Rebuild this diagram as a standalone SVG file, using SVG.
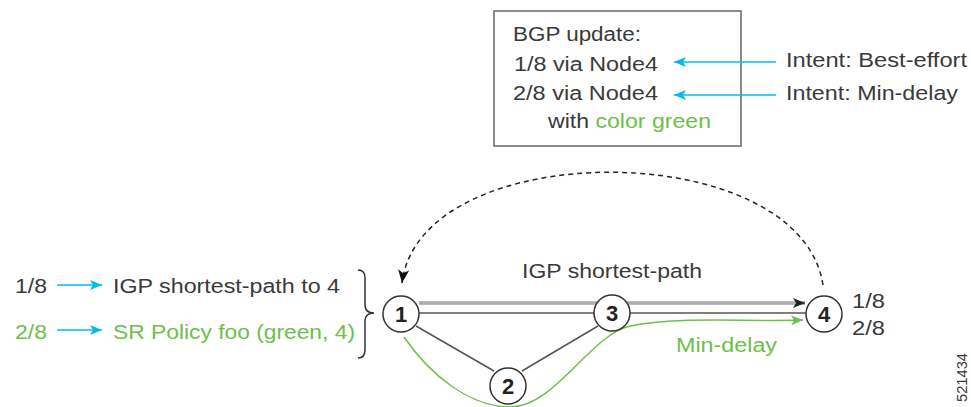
<svg xmlns="http://www.w3.org/2000/svg" width="971" height="407" viewBox="0 0 971 407">
<style>
text{font-family:"Liberation Sans",Arial,sans-serif;font-size:20px;fill:#3a3a3a}
.g{fill:#6cc04a}
.num{font-weight:bold;font-size:22px;text-anchor:middle;fill:#222}
.node{fill:#fff;stroke:#333;stroke-width:1.5}
.blue{stroke:#00bceb;stroke-width:1.5;fill:none}
.link{stroke:#555;stroke-width:1.5;fill:none}
</style>
<defs>
<marker id="ab" viewBox="0 0 12 10" refX="12" refY="5" markerWidth="12" markerHeight="10" markerUnits="userSpaceOnUse" orient="auto"><path d="M0,0 L12,5 L0,10 L3,5 z" fill="#00bceb"/></marker>
<marker id="ak" viewBox="0 0 12 10" refX="12" refY="5" markerWidth="12" markerHeight="10" markerUnits="userSpaceOnUse" orient="auto"><path d="M0,0 L12,5 L0,10 L3,5 z" fill="#222"/></marker>
<marker id="ag" viewBox="0 0 12 10" refX="12" refY="5" markerWidth="12" markerHeight="10" markerUnits="userSpaceOnUse" orient="auto"><path d="M0,0 L12,5 L0,10 L3,5 z" fill="#6cc04a"/></marker>
<marker id="ad" viewBox="0 0 12 10" refX="12" refY="5" markerWidth="14" markerHeight="11" markerUnits="userSpaceOnUse" orient="auto"><path d="M0,0 L12,5 L0,10 L3,5 z" fill="#111"/></marker>
</defs>

<g id="bgp-update">
<rect x="494" y="11" width="247" height="135" fill="#fff" stroke="#666" stroke-width="1.5"/>
<text x="513" y="41" textLength="128" lengthAdjust="spacingAndGlyphs">BGP update:</text>
<text x="514" y="71" textLength="144" lengthAdjust="spacingAndGlyphs">1/8 via Node4</text>
<text x="513" y="100" textLength="145" lengthAdjust="spacingAndGlyphs">2/8 via Node4</text>
<text x="548" y="128" textLength="163" lengthAdjust="spacingAndGlyphs">with <tspan class="g">color green</tspan></text>
</g>

<g id="intents">
<text x="786" y="67" textLength="181" lengthAdjust="spacingAndGlyphs">Intent: Best-effort</text>
<text x="786" y="100" textLength="172" lengthAdjust="spacingAndGlyphs">Intent: Min-delay</text>
</g>

<g id="left-labels">
<text x="15" y="293" textLength="32" lengthAdjust="spacingAndGlyphs">1/8</text>
<text x="113" y="293" textLength="227" lengthAdjust="spacingAndGlyphs">IGP shortest-path to 4</text>
<text class="g" x="15" y="339" textLength="32" lengthAdjust="spacingAndGlyphs">2/8</text>
<text class="g" x="113" y="339" textLength="242" lengthAdjust="spacingAndGlyphs">SR Policy foo (green, 4)</text>
<path d="M358,270 Q365,270 365,278 L365,305 Q365,313 374,313 Q365,313 365,321 L365,350 Q365,358 358,358" fill="none" stroke="#333" stroke-width="1.5"/>
</g>

<g id="connectors">
<line class="blue" x1="776" y1="62" x2="674" y2="62" marker-end="url(#ab)"/>
<line class="blue" x1="776" y1="95" x2="674" y2="95" marker-end="url(#ab)"/>
<line class="blue" x1="57" y1="285" x2="102" y2="285" marker-end="url(#ab)"/>
<line class="blue" x1="57" y1="330" x2="102" y2="330" marker-end="url(#ab)"/>
<path d="M823,285 C800,135 420,135 402,283" fill="none" stroke="#222" stroke-width="1.5" stroke-dasharray="5,4" marker-end="url(#ad)"/>
<line x1="419" y1="303" x2="805" y2="303" stroke="#777" stroke-width="3" marker-end="url(#ak)"/>
<line x1="419" y1="303" x2="796" y2="303" stroke="#e4e4e4" stroke-width="1"/>
<line class="link" x1="419" y1="313" x2="806" y2="313"/>
<line class="link" x1="416" y1="326" x2="494" y2="371"/>
<line class="link" x1="522" y1="371" x2="598" y2="326"/>
<path d="M404,337 C430,375 470,407 510,407 C555,407 590,335 630,326 C680,316 740,322 803,320" fill="none" stroke="#6cc04a" stroke-width="1.5" marker-end="url(#ag)"/>
</g>

<g id="node1"><circle class="node" cx="401" cy="314" r="18"/><text class="num" x="401" y="322">1</text></g>
<g id="node2"><circle class="node" cx="508" cy="386" r="18"/><text class="num" x="508" y="394">2</text></g>
<g id="node3"><circle class="node" cx="612" cy="313" r="18"/><text class="num" x="612" y="321">3</text></g>
<g id="node4"><circle class="node" cx="824" cy="314" r="18"/><text class="num" x="824" y="322">4</text></g>

<g id="path-labels">
<text x="522" y="278" textLength="180" lengthAdjust="spacingAndGlyphs">IGP shortest-path</text>
<text class="g" x="676" y="352" textLength="101" lengthAdjust="spacingAndGlyphs">Min-delay</text>
<text x="852" y="308" textLength="33" lengthAdjust="spacingAndGlyphs">1/8</text>
<text x="852" y="335" textLength="33" lengthAdjust="spacingAndGlyphs">2/8</text>
</g>

<text x="0" y="0" transform="translate(967,402) rotate(-90)" style="font-size:14px" textLength="49" lengthAdjust="spacingAndGlyphs">521434</text>
</svg>
